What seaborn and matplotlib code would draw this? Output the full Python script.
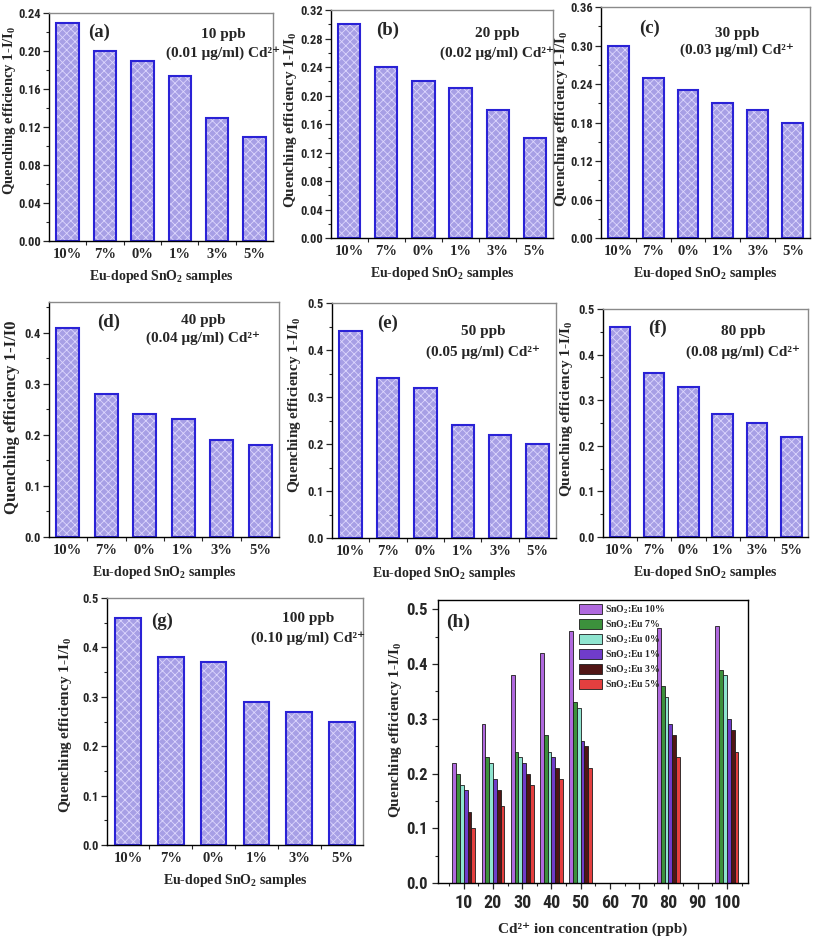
import numpy as np
import pandas as pd
import matplotlib
matplotlib.use("Agg")
import matplotlib.pyplot as plt
from matplotlib import font_manager
from matplotlib.ticker import MultipleLocator, FixedLocator, FormatStrFormatter
import seaborn as sns

# quenching efficiency 1-I/I0 per Eu-doped SnO2 sample
samples = ["10%", "7%", "0%", "1%", "3%", "5%"]
qe_10ppb = [0.23, 0.20, 0.19, 0.174, 0.13, 0.11]
qe_20ppb = [0.30, 0.24, 0.22, 0.21, 0.18, 0.14]
qe_30ppb = [0.30, 0.25, 0.23, 0.21, 0.20, 0.18]
qe_40ppb = [0.41, 0.28, 0.24, 0.23, 0.19, 0.18]
qe_50ppb = [0.44, 0.34, 0.32, 0.24, 0.22, 0.20]
qe_80ppb = [0.46, 0.36, 0.33, 0.27, 0.25, 0.22]
qe_100ppb = [0.46, 0.38, 0.37, 0.29, 0.27, 0.25]

# panel (h)
conc_ticks = ["10", "20", "30", "40", "50", "60", "70", "80", "90", "100"]
conc_measured = ["10", "20", "30", "40", "50", "80", "100"]
eu_10 = [0.22, 0.29, 0.38, 0.42, 0.46, 0.465, 0.47]
eu_7 = [0.20, 0.23, 0.24, 0.27, 0.33, 0.36, 0.39]
eu_0 = [0.18, 0.22, 0.23, 0.24, 0.32, 0.34, 0.38]
eu_1 = [0.17, 0.19, 0.22, 0.23, 0.26, 0.29, 0.30]
eu_3 = [0.13, 0.17, 0.20, 0.21, 0.25, 0.27, 0.28]
eu_5 = [0.10, 0.14, 0.18, 0.19, 0.21, 0.23, 0.24]
legend_names = ["SnO$_2$:Eu 10%", "SnO$_2$:Eu 7%", "SnO$_2$:Eu 0%",
                "SnO$_2$:Eu 1%", "SnO$_2$:Eu 3%", "SnO$_2$:Eu 5%"]

rows = []
for name, vals in zip(legend_names, [eu_10, eu_7, eu_0, eu_1, eu_3, eu_5]):
    for c, v in zip(conc_measured, vals):
        rows.append({"conc": c, "qe": v, "sample": name})
df_h = pd.DataFrame(rows)

sns.set_style("ticks")
plt.rcParams["font.family"] = ["Liberation Serif", "DejaVu Serif"]
plt.rcParams["font.weight"] = "bold"
plt.rcParams["axes.labelweight"] = "bold"
plt.rcParams["mathtext.fontset"] = "custom"
plt.rcParams["mathtext.rm"] = "Liberation Serif:bold"
plt.rcParams["mathtext.it"] = "Liberation Serif:italic:bold"
plt.rcParams["mathtext.bf"] = "Liberation Serif:bold"
plt.rcParams["hatch.linewidth"] = 0.6

# narrow sans for the tick numbers if one is there
installed = {f.name for f in font_manager.fontManager.ttflist}
tick_font, tick_scale = "Liberation Sans", 0.88
for name in ["Liberation Sans Narrow", "DejaVu Sans Condensed", "Roboto Condensed"]:
    if name in installed:
        tick_font, tick_scale = name, 1.0
        break

fig = plt.figure(figsize=(8.13, 9.39), dpi=100)

ylab = "Quenching efficiency 1-I/I$_0$"
xlab = "Eu-doped SnO$_2$ samples"


def frame(ax):
    for s in ["top", "right"]:
        ax.spines[s].set_color("#8a8a8a")
    for s in ["left", "bottom"]:
        ax.spines[s].set_color("black")
    for s in ax.spines:
        ax.spines[s].set_linewidth(1.0)


def sample_panel(rect, values, tag, ppb, ugml, ymax, ystep, ydec, ylabel, ylab_size,
                 ylab_xy, tag_xy, ppb_xy, ugml_y):
    ax = fig.add_axes(rect)
    sns.barplot(x=samples, y=values, color="#9e93f1", width=0.6, errorbar=None,
                edgecolor="#dcd6fd", linewidth=0, hatch="xxxx", ax=ax)
    sns.barplot(x=samples, y=values, color="#2a22d6", width=0.6, errorbar=None,
                fill=False, linewidth=1.5, ax=ax)
    ax.set_xlim(-0.49, 5.49)
    ax.set_ylim(0, ymax)
    ax.yaxis.set_major_locator(MultipleLocator(ystep))
    ax.yaxis.set_minor_locator(MultipleLocator(ystep / 2))
    ax.yaxis.set_major_formatter(FormatStrFormatter("%." + str(ydec) + "f"))
    ax.xaxis.set_minor_locator(FixedLocator(np.arange(0.5, 5, 1)))
    ax.tick_params(axis="x", which="major", length=0, pad=5, labelsize=10.5)
    ax.tick_params(axis="x", which="minor", length=3, width=0.8)
    ax.tick_params(axis="y", which="major", length=4, width=0.9, pad=2,
                   labelsize=9 * tick_scale)
    ax.tick_params(axis="y", which="minor", length=2, width=0.8)
    for lab in ax.get_yticklabels():
        lab.set_family(tick_font)
        lab.set_weight("bold")
    ax.set_xlabel(xlab, fontsize=10, labelpad=5)
    ax.set_ylabel(ylabel, fontsize=ylab_size)
    ax.yaxis.set_label_coords(ylab_xy[0], ylab_xy[1])
    frame(ax)
    ax.text(tag_xy[0], tag_xy[1], tag, transform=ax.transAxes, ha="center",
            va="center", fontsize=13.5, fontweight="bold")
    ax.text(ppb_xy[0], ppb_xy[1], ppb, transform=ax.transAxes, ha="center",
            va="center", fontsize=11, fontweight="bold")
    ax.text(ppb_xy[0], ugml_y, ugml, transform=ax.transAxes, ha="center",
            va="center", fontsize=11, fontweight="bold")
    return ax


sample_panel([0.0603, 0.7433, 0.2755, 0.2428], qe_10ppb, "(a)", "10 ppb",
             "(0.01 μg/ml) Cd²⁺", 0.24, 0.04, 2, ylab, 10.5, (-0.14, 0.575),
             (0.223, 0.917), (0.777, 0.904), 0.822)
sample_panel([0.4071, 0.7465, 0.2731, 0.2428], qe_20ppb, "(b)", "20 ppb",
             "(0.02 μg/ml) Cd²⁺", 0.32, 0.04, 2, ylab, 11, (-0.142, 0.52),
             (0.257, 0.912), (0.748, 0.899), 0.81)
sample_panel([0.7392, 0.7465, 0.2571, 0.2460], qe_30ppb, "(c)", "30 ppb",
             "(0.03 μg/ml) Cd²⁺", 0.36, 0.06, 2, ylab, 11, (-0.15, 0.515),
             (0.234, 0.909), (0.65, 0.887), 0.814)
sample_panel([0.0603, 0.4281, 0.2829, 0.2503], qe_40ppb, "(d)", "40 ppb",
             "(0.04 μg/ml) Cd²⁺", 0.46, 0.1, 1, "Quenching efficiency 1-I/I0", 12,
             (-0.125, 0.51), (0.257, 0.915), (0.67, 0.923), 0.847)
sample_panel([0.4084, 0.4270, 0.2755, 0.2503], qe_50ppb, "(e)", "50 ppb",
             "(0.05 μg/ml) Cd²⁺", 0.5, 0.1, 1, ylab, 11, (-0.128, 0.566),
             (0.25, 0.915), (0.674, 0.877), 0.79)
sample_panel([0.7417, 0.4281, 0.2522, 0.2428], qe_80ppb, "(f)", "80 ppb",
             "(0.08 μg/ml) Cd²⁺", 0.5, 0.1, 1, ylab, 11, (-0.137, 0.561),
             (0.268, 0.917), (0.683, 0.9), 0.81)
sample_panel([0.1316, 0.1001, 0.3149, 0.2630], qe_100ppb, "(g)", "100 ppb",
             "(0.10 μg/ml) Cd²⁺", 0.5, 0.1, 1, ylab, 11, (-0.127, 0.486),
             (0.215, 0.907), (0.785, 0.919), 0.838)

# (h) all concentrations together
axh = fig.add_axes([0.5387, 0.0596, 0.3813, 0.3014])
palette_h = ["#b455f2", "#2e9f2e", "#7ff3d6", "#6a24e2", "#5b0b0b", "#ff2424"]
sns.barplot(data=df_h, x="conc", y="qe", hue="sample", order=conc_ticks,
            hue_order=legend_names, palette=palette_h, width=0.78, errorbar=None,
            edgecolor="#1c1c1c", linewidth=0.6, ax=axh)
axh.set_xlim(-0.88, 9.72)
axh.set_ylim(0, 0.517)
axh.yaxis.set_major_locator(MultipleLocator(0.1))
axh.yaxis.set_minor_locator(MultipleLocator(0.05))
axh.yaxis.set_major_formatter(FormatStrFormatter("%.1f"))
axh.xaxis.set_minor_locator(FixedLocator(np.arange(-0.5, 9.6, 1)))
axh.tick_params(axis="x", which="major", length=4, width=0.9, pad=4,
                labelsize=13 * tick_scale)
axh.tick_params(axis="x", which="minor", length=2.5, width=0.8)
axh.tick_params(axis="y", which="major", length=4, width=0.9, pad=3,
                labelsize=12 * tick_scale)
axh.tick_params(axis="y", which="minor", length=2, width=0.8)
for lab in axh.get_xticklabels() + axh.get_yticklabels():
    lab.set_family(tick_font)
    lab.set_weight("bold")
axh.set_xlabel("Cd²⁺ ion concentration (ppb)", fontsize=11, labelpad=7)
axh.set_ylabel("Quenching efficiency 1-I/I$_0$", fontsize=11)
axh.yaxis.set_label_coords(-0.11, 0.54)
frame(axh)
axh.spines["top"].set_color("black")
axh.spines["right"].set_color("black")
axh.text(0.066, 0.922, "(h)", transform=axh.transAxes, ha="center", va="center",
         fontsize=14, fontweight="bold")
axh.legend(loc="upper left", bbox_to_anchor=(0.44, 1.005), frameon=False,
           prop={"family": "Liberation Serif", "weight": "bold", "size": 7},
           handlelength=2.3, handleheight=1.25, labelspacing=0.25,
           handletextpad=0.3, borderaxespad=0.1)

fig.savefig("out.png", dpi=100)
